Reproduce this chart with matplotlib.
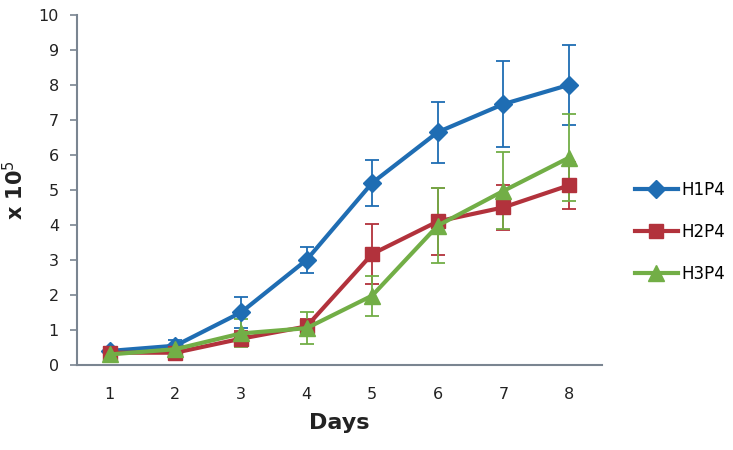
import matplotlib
matplotlib.use("Agg")
import matplotlib.pyplot as plt
from matplotlib.lines import Line2D

days = [1, 2, 3, 4, 5, 6, 7, 8]
h1 = [0.4, 0.55, 1.5, 3.0, 5.2, 6.65, 7.45, 8.0]
h1_err = [0.1, 0.15, 0.45, 0.38, 0.65, 0.87, 1.23, 1.15]
h2 = [0.35, 0.35, 0.75, 1.1, 3.17, 4.1, 4.5, 5.13]
h2_err = [0.1, 0.12, 0.22, 0.2, 0.85, 0.95, 0.65, 0.67]
h3 = [0.3, 0.45, 0.9, 1.05, 1.98, 3.98, 4.97, 5.92]
h3_err = [0.08, 0.12, 0.4, 0.45, 0.57, 1.07, 1.1, 1.25]
labels = ["H1P4", "H2P4", "H3P4"]
colors = ["#1f6db3", "#b2323c", "#72ae46"]

fig = plt.figure(figsize=(7.33, 4.5), dpi=100)
ax = fig.add_axes([0.105, 0.189, 0.716, 0.778])

series = [(h1, h1_err, "D", 9), (h2, h2_err, "s", 10), (h3, h3_err, "^", 11)]
handles = []
for (vals, errs, mk, ms), lab, c in zip(series, labels, colors):
    ax.errorbar(days, vals, yerr=errs, color=c, ecolor=c, elinewidth=1.3,
                capsize=5, capthick=1.3, lw=3, marker=mk, markersize=ms)
    handles.append(Line2D([], [], color=c, lw=3, marker=mk, markersize=ms, label=lab))

ax.set_xlim(0.5, 8.5)
ax.set_ylim(0, 10)
ax.set_yticks(range(0, 11))
ax.set_xticks(days)
for s in ["top", "right"]:
    ax.spines[s].set_visible(False)
axc = "#7a8591"
ax.spines["left"].set_color(axc)
ax.spines["bottom"].set_color(axc)
ax.spines["left"].set_linewidth(1.5)
ax.spines["bottom"].set_linewidth(1.5)
ax.tick_params(axis="y", length=5, color=axc, width=1.2, labelsize=11.5,
               labelcolor="#222222", pad=8)
ax.tick_params(axis="x", length=0, labelsize=11.5, labelcolor="#222222", pad=16)
ax.set_xlabel("Days", fontsize=16, fontweight="bold", color="#222222", labelpad=8)
ax.set_ylabel(r"x 10$^5$", fontsize=15, fontweight="bold", color="#222222", labelpad=8)

leg = ax.legend(handles=handles, loc="upper left", bbox_to_anchor=(1.05, 0.545),
                frameon=False, fontsize=12, handlelength=2.6, labelspacing=1.45,
                handletextpad=0.2, borderaxespad=0)
fig.savefig("out.png", dpi=100)
